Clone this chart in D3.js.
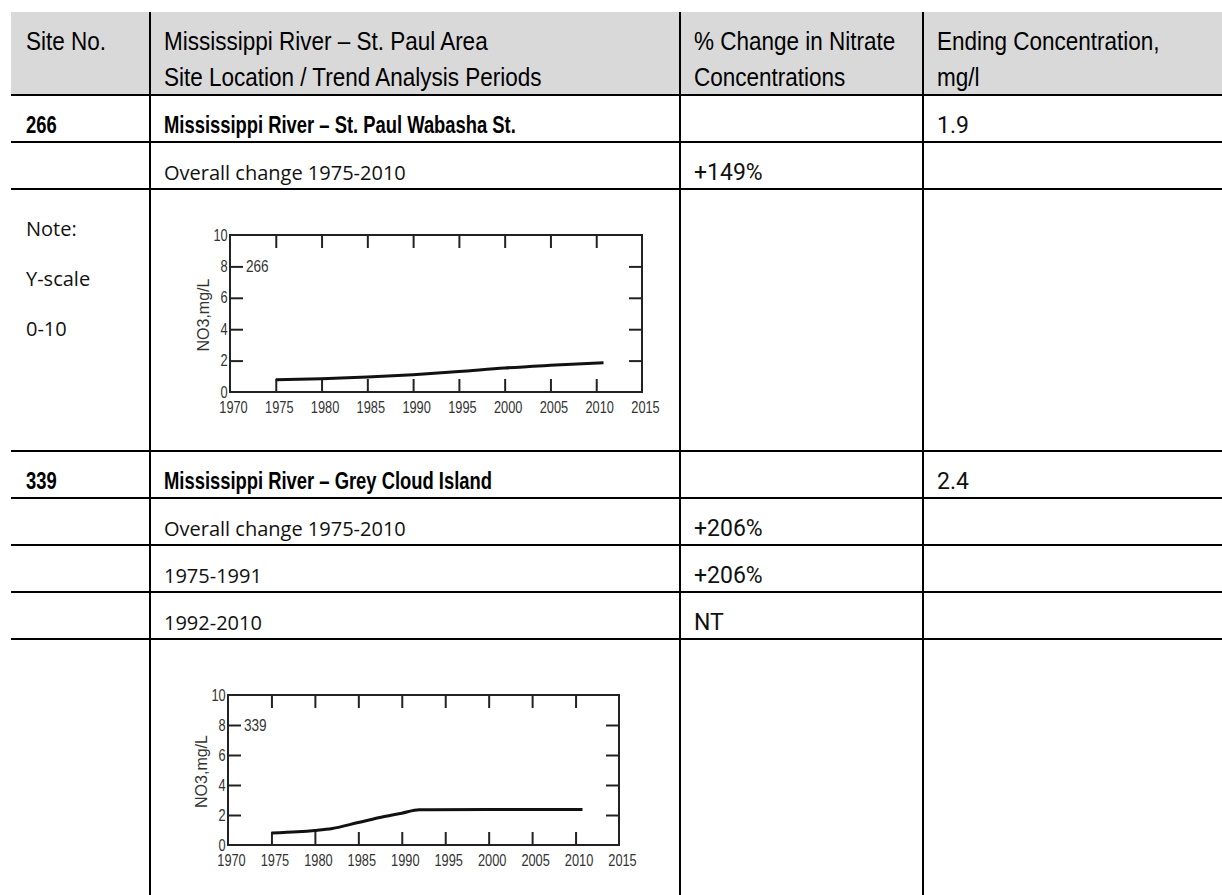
<!DOCTYPE html>
<meta charset="utf-8">
<style type="text/css">

body {
  margin: 0;
  background: #fff;
}

.grid {
  stroke: #000;
  stroke-width: 2;
}

.hdr {
  font-family: "Liberation Sans", sans-serif;
  font-size: 25px;
  fill: #000;
}

.bold {
  font-family: "Liberation Sans", sans-serif;
  font-weight: bold;
  font-size: 23px;
  fill: #000;
}

.body {
  font-family: "Open Sans", sans-serif;
  font-size: 20px;
  fill: #111;
}

.num {
  font-family: Roboto, sans-serif;
  font-size: 23px;
  fill: #111;
}

.frame {
  fill: none;
  stroke: #222;
  stroke-width: 2;
}

.tk line {
  stroke: #222;
  stroke-width: 2;
}

.tk path, .lab path {
  display: none;
}

.lab text, .site, .ylab {
  font-family: "Liberation Sans", sans-serif;
  font-size: 16px;
  fill: #333;
}

.trend {
  fill: none;
  stroke: #111;
  stroke-width: 3;
}

</style>
<svg width="1222" height="895"></svg>
<script src="https://cdn.jsdelivr.net/npm/d3@7"></script>
<script>

// table text
var headers = [
  ["Site No."],
  ["Mississippi River – St. Paul Area", "Site Location / Trend Analysis Periods"],
  ["% Change in Nitrate", "Concentrations"],
  ["Ending Concentration,", "mg/l"]
];

// [site, location, % change, ending conc, style]
var rows = [
  ["266", "Mississippi River – St. Paul Wabasha St.", "", "1.9", "site"],
  ["", "Overall change 1975-2010", "+149%", "", "period"],
  ["chart266"],
  ["339", "Mississippi River – Grey Cloud Island", "", "2.4", "site"],
  ["", "Overall change 1975-2010", "+206%", "", "period"],
  ["", "1975-1991", "+206%", "", "period"],
  ["", "1992-2010", "NT", "", "period"],
  ["chart339"]
];

var noteLines = ["Note:", "Y-scale", "0-10"];

// chart series
var years266 = [1975, 1980, 1985, 1990, 1995, 2000, 2005, 2010.8];
var no3_266  = [0.78, 0.85, 0.95, 1.1, 1.3, 1.53, 1.7, 1.87];

var years339 = [1975, 1978, 1980, 1982, 1985, 1988, 1990, 1992, 2000, 2010.8];
var no3_339  = [0.8, 0.88, 0.97, 1.1, 1.5, 1.9, 2.12, 2.35, 2.36, 2.36];

var xLabels = [1970, 1975, 1980, 1985, 1990, 1995, 2000, 2005, 2010, 2015];
var xInner  = [1975, 1980, 1985, 1990, 1995, 2000, 2005, 2010];
var yLabels = [0, 2, 4, 6, 8, 10];
var yInner  = [2, 4, 6, 8];


var svg = d3.select("svg"),
    width = +svg.attr("width"),
    height = +svg.attr("height");

var tLeft = 11, tTop = 12,
    colX = [tLeft, 150, 680, 923, width],
    pad = 14;

// row heights: header, then the body rows
var rowH = [83, 47, 47, 262, 47, 47, 47, 47, 256];
var rowY = [tTop];
rowH.forEach(function(h, i){ rowY.push(rowY[i] + h); });

// text squeezed sideways, the scan uses narrow faces
function putText(cls, x, y, sx, t){
  return svg.append("text").attr("class", cls)
     .attr("transform", "translate(" + x + "," + y + ") scale(" + sx + ",1)")
     .text(t);
}

// header background
svg.append("rect")
   .attr("x", tLeft).attr("y", tTop)
   .attr("width", width - tLeft).attr("height", rowH[0])
   .attr("fill", "#d9d9d9");

// header text
headers.forEach(function(lines, c){
  lines.forEach(function(t, k){
    putText("hdr", colX[c] + pad + (c == 0 ? 1 : 0), tTop + 38 + k * 36, 0.9, t);
  });
});

// body rows
rows.forEach(function(r, i){
  var y1 = rowY[i + 2];
  if (r.length == 1) return;
  r.slice(0, 4).forEach(function(t, c){
    if (!t) return;
    var x = colX[c] + pad + (c == 0 ? 1 : 0);
    if (c == 0 || (c == 1 && r[4] == "site")) putText("bold", x, y1 - 9, 0.8, t);
    else putText(c == 1 ? "body" : "num", x, y1 - 9, 1, t);
  });
});

// note in the first column of the first chart row
svg.selectAll(".note").data(noteLines).enter()
   .append("text").attr("class", "body note")
   .attr("x", colX[0] + pad + 1)
   .attr("y", function(d, i){ return rowY[3] + 47 + i * 50; })
   .text(function(d){ return d; });

// grid lines
rowY.slice(1, rowY.length - 1).forEach(function(y){
  svg.append("line").attr("class", "grid")
     .attr("x1", tLeft).attr("x2", width).attr("y1", y).attr("y2", y);
});
colX.slice(1, 4).forEach(function(x){
  svg.append("line").attr("class", "grid")
     .attr("x1", x).attr("x2", x).attr("y1", tTop).attr("y2", height);
});


// small NO3 plot
function drawPlot(box, site, yrs, vals){
  var g = svg.append("g");
  var x = d3.scaleLinear().domain([1970, 2015]).range([box.x0, box.x1]);
  var y = d3.scaleLinear().domain([0, 10]).range([box.y1, box.y0]);

  g.append("rect").attr("class", "frame")
   .attr("x", box.x0).attr("y", box.y0)
   .attr("width", box.x1 - box.x0).attr("height", box.y1 - box.y0);

  // inward ticks on all four sides
  g.append("g").attr("class", "tk")
   .attr("transform", "translate(0," + box.y1 + ")")
   .call(d3.axisBottom(x).tickValues(xInner).tickSize(-13).tickFormat(""));
  g.append("g").attr("class", "tk")
   .attr("transform", "translate(0," + box.y0 + ")")
   .call(d3.axisTop(x).tickValues(xInner).tickSize(-13).tickFormat(""));
  g.append("g").attr("class", "tk")
   .attr("transform", "translate(" + box.x0 + ",0)")
   .call(d3.axisLeft(y).tickValues(yInner).tickSize(-13).tickFormat(""));
  g.append("g").attr("class", "tk")
   .attr("transform", "translate(" + box.x1 + ",0)")
   .call(d3.axisRight(y).tickValues(yInner).tickSize(-13).tickFormat(""));

  // labels, condensed like the scan
  g.append("g").attr("class", "lab")
   .attr("transform", "translate(3," + box.y1 + ")")
   .call(d3.axisBottom(x).tickValues(xLabels).tickSize(0).tickPadding(10).tickFormat(d3.format("d")))
   .selectAll("text").attr("transform", "scale(0.8,1)");
  g.append("g").attr("class", "lab")
   .attr("transform", "translate(" + box.x0 + ",0)")
   .call(d3.axisLeft(y).tickValues(yLabels).tickSize(0).tickPadding(3))
   .selectAll("text").attr("transform", "scale(0.8,1)");

  g.append("text").attr("class", "ylab")
   .attr("transform", "translate(" + (box.x0 - 27) + "," + y(4.9) + ") rotate(-90)")
   .attr("text-anchor", "middle")
   .attr("dy", "0.35em")
   .text("NO3,mg/L");

  g.append("text").attr("class", "site")
   .attr("transform", "translate(" + (box.x0 + 16) + "," + y(8) + ") scale(0.85,1)")
   .attr("dy", "0.35em")
   .text(site);

  var line = d3.line()
    .x(function(d, i){ return x(yrs[i]); })
    .y(function(d){ return y(d); })
    .curve(d3.curveMonotoneX);

  g.append("path").attr("class", "trend")
   .datum(vals)
   .attr("d", line);
}

drawPlot({x0: 230, x1: 642, y0: 235, y1: 392}, "266", years266, no3_266);
drawPlot({x0: 228, x1: 619, y0: 695, y1: 845}, "339", years339, no3_339);

</script>
